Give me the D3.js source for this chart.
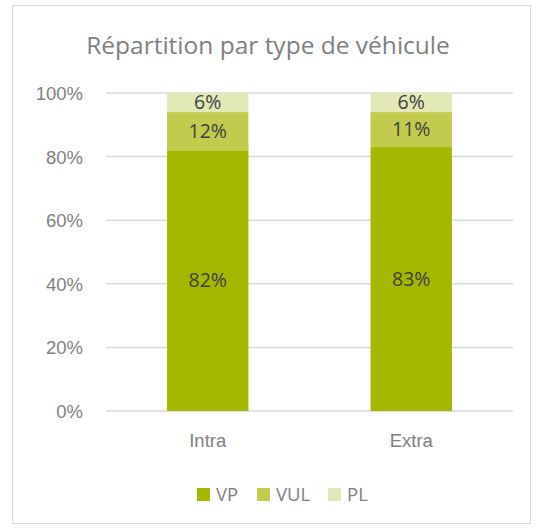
<!DOCTYPE html>
<meta charset="utf-8">
<style>
  body { margin: 0; background: #fff; font-family: "Open Sans", "Noto Sans", sans-serif; }
  .grid line { stroke: #d9d9d9; stroke-width: 1.5; }
  .axis text { fill: #7f7f7f; font-size: 18.5px; }
  .axis path.domain, .axis line { display: none; }
  .lbl { fill: #404040; font-size: 19.5px; text-anchor: middle; }
</style>
<body></body>
<script src="https://d3js.org/d3.v7.min.js"></script>
<script>
var categories = ["Intra", "Extra"];
var seriesNames = ["VP", "VUL", "PL"];
var vp = [82, 83];
var vul = [12, 11];
var pl = [6, 6];
var yTicks = [0, 20, 40, 60, 80, 100];

var colors = {VP: "#a5b800", VUL: "#c2cb4e", PL: "#e2e9b6"};

var W = 542, H = 529;
var margin = {top: 93, right: 29, bottom: 118, left: 106};
var w = W - margin.left - margin.right,
    h = H - margin.top - margin.bottom;

var svg = d3.select("body").append("svg")
    .attr("width", W)
    .attr("height", H);

// chart border
svg.append("rect")
    .attr("x", 12.5).attr("y", 5.5)
    .attr("width", 518).attr("height", 518)
    .attr("fill", "#fff")
    .attr("stroke", "#d9d9d9");

svg.append("text")
    .attr("x", 268).attr("y", 54)
    .attr("text-anchor", "middle")
    .attr("fill", "#7f7f7f")
    .style("font-size", "24.5px")
    .text("Répartition par type de véhicule");

var g = svg.append("g")
    .attr("transform", "translate(" + margin.left + "," + margin.top + ")");

var rows = categories.map(function(c, i) {
    return {cat: c, VP: vp[i], VUL: vul[i], PL: pl[i]};
});

var x = d3.scaleBand().domain(categories).range([0, w])
    .paddingInner(0.6).paddingOuter(0.3);
var y = d3.scaleLinear().domain([0, 100]).range([h, 0]);

g.append("g").attr("class", "grid")
  .selectAll("line").data(yTicks).enter().append("line")
    .attr("x1", 0).attr("x2", w)
    .attr("y1", function(d) { return y(d); })
    .attr("y2", function(d) { return y(d); });

g.append("g").attr("class", "axis")
    .call(d3.axisLeft(y).tickValues(yTicks).tickSize(0).tickPadding(23)
        .tickFormat(function(d) { return d + "%"; }))
  .selectAll("text").attr("dy", "0.35em");

g.append("g").attr("class", "axis")
    .attr("transform", "translate(0," + h + ")")
    .call(d3.axisBottom(x).tickSize(0).tickPadding(23));

var stack = d3.stack().keys(seriesNames)(rows);

var layer = g.selectAll(".layer").data(stack).enter().append("g")
    .attr("fill", function(d) { return colors[d.key]; });

layer.selectAll("rect").data(function(d) { return d; }).enter().append("rect")
    .attr("x", function(d) { return x(d.data.cat); })
    .attr("width", x.bandwidth())
    .attr("y", function(d) { return y(d[1]); })
    .attr("height", function(d) { return y(d[0]) - y(d[1]); });

layer.selectAll("text").data(function(d) { return d; }).enter().append("text")
    .attr("class", "lbl")
    .attr("x", function(d) { return x(d.data.cat) + x.bandwidth() / 2; })
    .attr("y", function(d) { return (y(d[0]) + y(d[1])) / 2; })
    .attr("dy", "0.35em")
    .text(function(d) { return (d[1] - d[0]) + "%"; });

// legend
var legX = [197, 257, 328];
var leg = svg.append("g").selectAll("g").data(seriesNames).enter().append("g")
    .attr("transform", function(d, i) { return "translate(" + legX[i] + ",488)"; });
leg.append("rect").attr("width", 13).attr("height", 13)
    .attr("fill", function(d) { return colors[d]; });
leg.append("text").attr("x", 19).attr("y", 6.5).attr("dy", "0.35em")
    .attr("fill", "#7f7f7f").style("font-size", "18.5px")
    .text(function(d) { return d; });
</script>
